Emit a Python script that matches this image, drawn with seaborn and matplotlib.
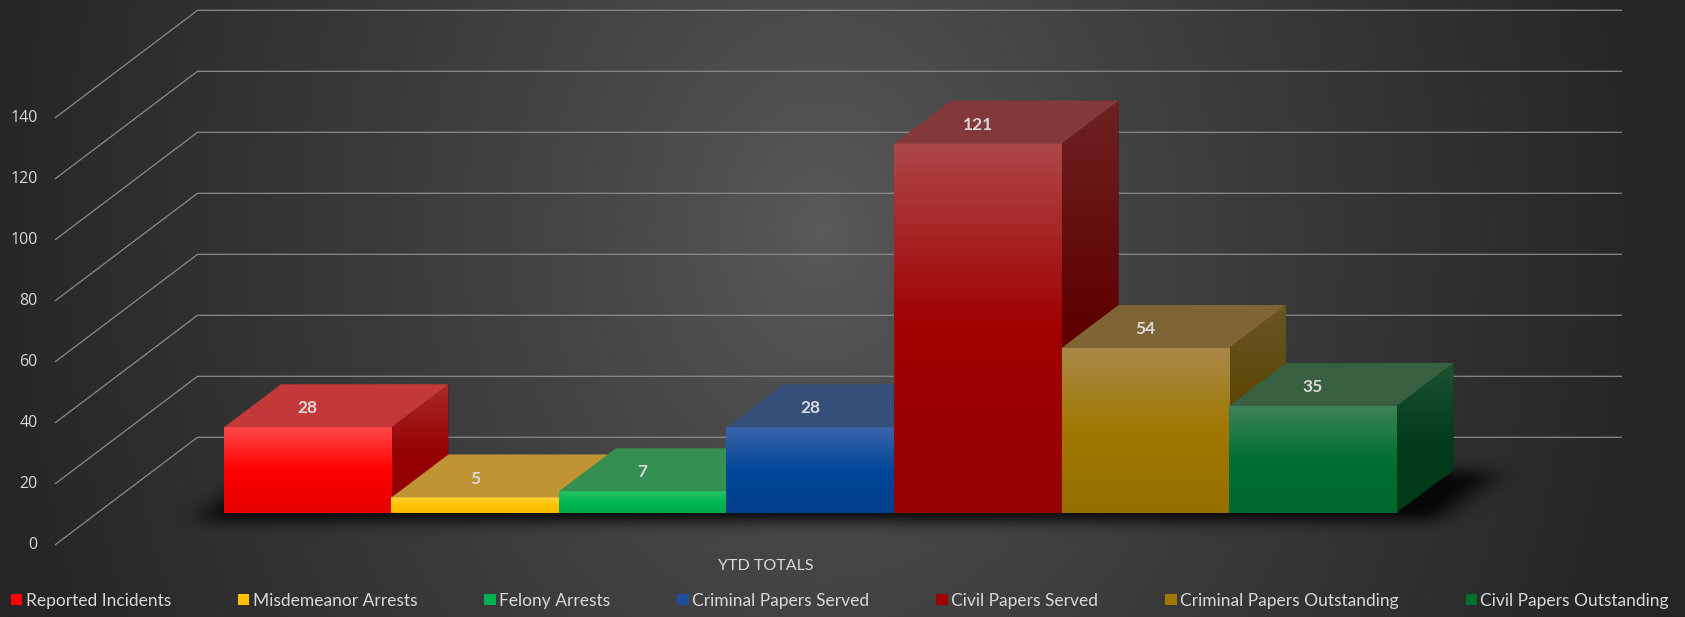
import numpy as np
import seaborn as sns
import matplotlib
matplotlib.use("Agg")
import matplotlib.pyplot as plt
from matplotlib.patches import Polygon, Patch
from matplotlib.colors import LinearSegmentedColormap, to_rgb

# ---- data -------------------------------------------------------------
categories = ["Reported Incidents", "Misdemeanor Arrests", "Felony Arrests",
              "Criminal Papers Served", "Civil Papers Served",
              "Criminal Papers Outstanding", "Civil Papers Outstanding"]
values = [28, 5, 7, 28, 121, 54, 35]
y_ticks = [0, 20, 40, 60, 80, 100, 120, 140]
axis_title = "YTD TOTALS"

# ---- colours ----------------------------------------------------------
legend_colors = ["#ff0000", "#ffc000", "#00b050", "#1f4e9a",
                 "#a00000", "#a07800", "#007030"]
front_mid = ["#ff0000", "#ffc400", "#00b850", "#004797",
             "#a00000", "#a07800", "#007030"]
front_top = ["#ff4848", "#ffd23a", "#2cc465", "#3c64aa",
             "#ad4848", "#a9884a", "#3d8357"]
front_bottom = ["#e40000", "#f7b900", "#00aa4c", "#003f8d",
                "#960000", "#957000", "#00672c"]
top_colors = ["#c33939", "#c09434", "#358f52", "#354f7b",
              "#833939", "#7f6535", "#366040"]
side_top = ["#aa2a2a", "#a58020", "#1e8a48", "#2a4a82",
            "#6e2222", "#6b5424", "#1d5232"]
side_bottom = ["#950000", "#8e6a00", "#006a30", "#00306c",
               "#5e0000", "#5a4300", "#003a18"]

TEXT = "#d9d9d9"
GRID = "#8a8a8a"

# ---- geometry of the oblique view (data units) ------------------------
DEPTH_X = 0.34      # horizontal shift of a bar's back face
DEPTH_Y = 14.1      # vertical shift of a bar's back face
FLOOR_FRONT = -0.75  # floor front edge, in bar depths
FLOOR_BACK = 1.753   # back wall, in bar depths
WALL_LEFT_FRONT = -1.509
WALL_RIGHT = 7.846
XLIM = (-1.837, 8.222)
YLIM = (-34.2, 168.1)

W_PX, H_PX = 1685, 617
fig = plt.figure(figsize=(W_PX / 100, H_PX / 100), dpi=100)
ax = fig.add_axes([0, 0, 1, 1])

# ---- background -------------------------------------------------------
gy, gx = np.mgrid[0:H_PX:4, 0:W_PX:4]
r = np.sqrt(((gx - 820) / 860.0) ** 2 + ((gy - 230) / 1100.0) ** 2)
r = np.clip(r, 0, 1) ** 0.75
c0 = np.array(to_rgb("#5b5b5b"))
c1 = np.array(to_rgb("#252525"))
bg = c0[None, None, :] * (1 - r[..., None]) + c1[None, None, :] * r[..., None]
ax.imshow(bg, extent=[XLIM[0], XLIM[1], YLIM[0], YLIM[1]], origin="upper",
          aspect="auto", zorder=0, interpolation="bilinear")

# ---- back wall gridlines with their floor diagonals --------------------
wall_left_back = WALL_LEFT_FRONT + (FLOOR_BACK - FLOOR_FRONT) * DEPTH_X
for v in y_ticks:
    yf = v + FLOOR_FRONT * DEPTH_Y
    yb = v + FLOOR_BACK * DEPTH_Y
    ax.plot([WALL_LEFT_FRONT, wall_left_back, WALL_RIGHT], [yf, yb, yb],
            color=GRID, lw=0.9, zorder=2, solid_capstyle="butt")
    ax.text(WALL_LEFT_FRONT - 0.104, yf, f"{v}", ha="right", va="center",
            color=TEXT, fontsize=11.5, family="Open Sans", zorder=5)

# ---- front faces through seaborn --------------------------------------
sns.barplot(x=categories, y=values, hue=categories, palette=legend_colors,
            width=1.0, saturation=1, legend=False, linewidth=0, ax=ax)
bars = sorted(ax.patches, key=lambda p: p.get_x())


def blur(a, sigma, axis):
    rad = int(3 * sigma)
    k = np.exp(-0.5 * (np.arange(-rad, rad + 1) / sigma) ** 2)
    k /= k.sum()
    return np.apply_along_axis(lambda m: np.convolve(m, k, mode="same"), axis, a)


# soft contact shadow under the row of bars
x0 = bars[0].get_x()
x1 = bars[-1].get_x() + bars[-1].get_width()
px_x = W_PX / (XLIM[1] - XLIM[0])
px_y = H_PX / (YLIM[1] - YLIM[0])
sx0, sx1 = x0 - 0.6, x1 + DEPTH_X + 1.0
sy0, sy1 = -14.0, DEPTH_Y + 8.0
nx, ny = int((sx1 - sx0) * px_x), int((sy1 - sy0) * px_y)
SX, SY = np.meshgrid(np.linspace(sx0, sx1, nx), np.linspace(sy0, sy1, ny))
t = SY / DEPTH_Y
u = SX - t * DEPTH_X
mask = ((t >= -0.2) & (t <= 0.95) & (u >= x0 - 0.1) & (u <= x1 + 0.3)).astype(float)
mask = blur(blur(mask, 14, 1), 7, 0)
shadow = np.zeros((ny, nx, 4))
shadow[..., 3] = np.clip(mask * 0.9, 0, 0.85)
ax.imshow(shadow, extent=[sx0, sx1, sy0, sy1], origin="lower", aspect="auto",
          zorder=3, interpolation="bilinear")

grad = np.linspace(0, 1, 256)[:, None]
for i, p in enumerate(bars):
    x, w, h = p.get_x(), p.get_width(), p.get_height()
    z = 10 + 4 * i

    # right side face
    side = Polygon([(x + w, 0), (x + w + DEPTH_X, DEPTH_Y),
                    (x + w + DEPTH_X, h + DEPTH_Y), (x + w, h)],
                   closed=True, facecolor=side_bottom[i], edgecolor="none",
                   zorder=z)
    ax.add_patch(side)
    cm_side = LinearSegmentedColormap.from_list(
        f"side{i}", [(0.0, side_bottom[i]), (0.45, side_bottom[i]),
                     (1.0, side_top[i])])
    im = ax.imshow(grad, extent=[x + w, x + w + DEPTH_X, 0, h + DEPTH_Y],
                   origin="lower", aspect="auto", cmap=cm_side,
                   zorder=z + 0.5, interpolation="bilinear")
    im.set_clip_path(side)

    # front face with a soft vertical sheen
    p.set_zorder(z + 1)
    cm_front = LinearSegmentedColormap.from_list(
        f"front{i}", [(0.0, front_bottom[i]), (0.5, front_mid[i]),
                      (1.0, front_top[i])])
    ax.imshow(grad, extent=[x, x + w, 0, h], origin="lower", aspect="auto",
              cmap=cm_front, zorder=z + 1.5, interpolation="bilinear")

    # top face
    top = Polygon([(x, h), (x + w, h), (x + w + DEPTH_X, h + DEPTH_Y),
                   (x + DEPTH_X, h + DEPTH_Y)], closed=True,
                  facecolor=top_colors[i], edgecolor="none", zorder=z + 2)
    ax.add_patch(top)

    ax.text(x + w / 2, h + 0.44 * DEPTH_Y, f"{values[i]}", ha="center",
            va="center", color=TEXT, fontsize=12.5, fontweight="bold",
            family="Lato", zorder=100)

ax.text(2.736, -17.5, axis_title, ha="center", va="center", color=TEXT,
        fontsize=11.5, family="Lato", zorder=100)

ax.set_xlim(*XLIM)
ax.set_ylim(*YLIM)
ax.set_axis_off()

handles = [Patch(facecolor=c, edgecolor="none", label=lab)
           for c, lab in zip(legend_colors, categories)]
fig.legend(handles=handles, ncol=7, loc="center", mode="expand",
           bbox_to_anchor=(0.0065, 0.0064, 0.984, 0.04), frameon=False,
           handlelength=0.65, handleheight=0.65, handletextpad=0.2,
           borderaxespad=0, borderpad=0, labelcolor=TEXT,
           prop={"family": "Lato", "size": 12.5})

fig.savefig("out.png", dpi=100)
